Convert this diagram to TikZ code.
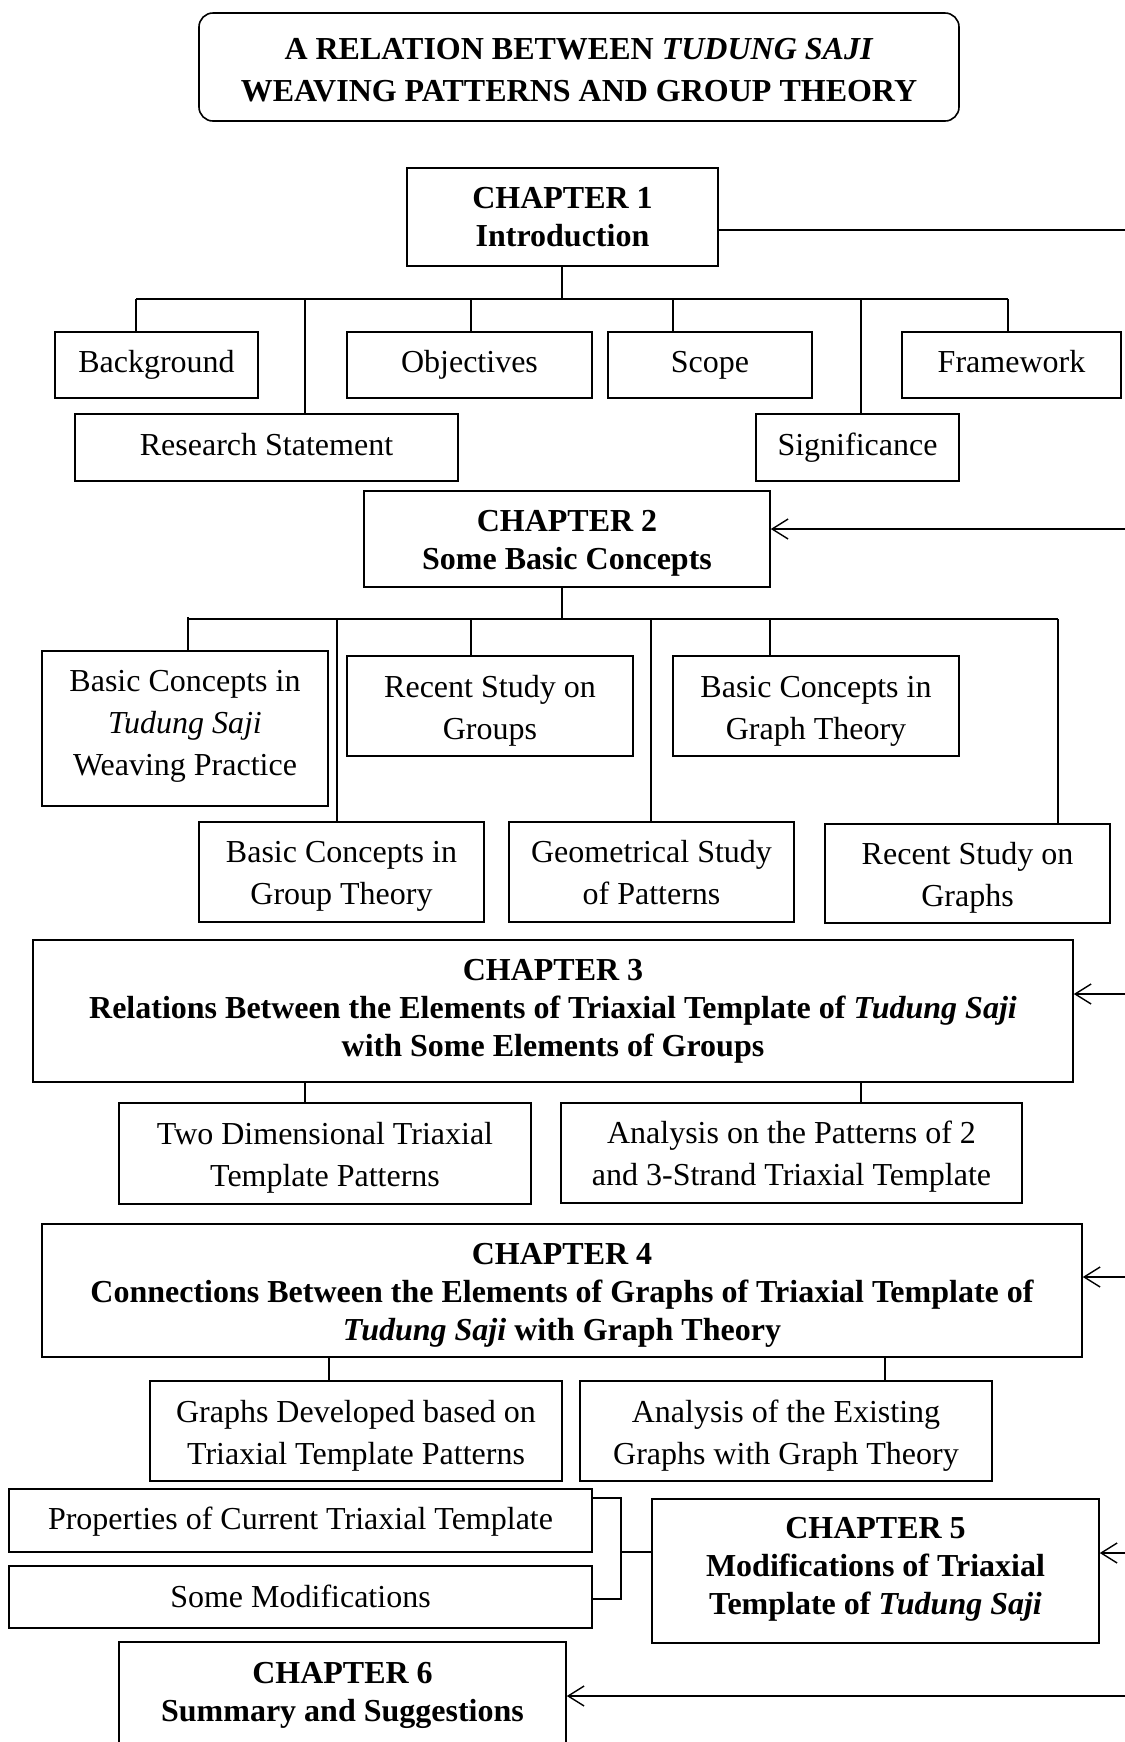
\documentclass[tikz,border=0pt]{standalone}
\usepackage{fontspec}
\setmainfont{Liberation Serif}
\usetikzlibrary{arrows.meta}
\newcommand{\topr}[1]{\rule{0pt}{#1}}
\newcommand{\botr}[1]{\rule[-#1]{0pt}{#1}}
\tikzset{
  plainbox/.style={draw, line width=0.8pt, align=center, inner sep=0pt,
    font=\fontsize{16}{21}\selectfont},
  chapbox/.style={plainbox, font=\fontsize{16}{19}\selectfont\bfseries},
  conn/.style={line width=0.7pt},
  arr/.style={line width=0.7pt, -{Straight Barb[length=8pt,width=10pt,line width=0.7pt]}}
}
\begin{document}
\begin{tikzpicture}[x=0.5pt,y=-0.5pt]
\path[use as bounding box] (0,0) rectangle (1125,1742);
\clip (0,0) rectangle (1125,1742);

% title
\node[chapbox, rounded corners=7pt, minimum width=380pt, minimum height=54pt,
  font=\fontsize{16}{21}\selectfont\bfseries] (title) at (579,67)
  {\topr{17.3pt}A RELATION BETWEEN \textit{TUDUNG SAJI}\\WEAVING PATTERNS AND GROUP THEORY\botr{4pt}};

% chapter 1
\node[chapbox, minimum width=155.5pt, minimum height=49pt] (ch1) at (562.5,217) {\topr{14pt}CHAPTER 1\\Introduction\botr{4pt}};
\node[plainbox, minimum width=101.5pt, minimum height=33pt] (bg) at (156.5,365) {\topr{11.5pt}Background\botr{4.3pt}};
\node[plainbox, minimum width=122.5pt, minimum height=33pt] (obj) at (469.5,365) {\topr{11.5pt}Objectives\botr{4.3pt}};
\node[plainbox, minimum width=102pt, minimum height=33pt] (scope) at (710,365) {\topr{11.5pt}Scope\botr{4.3pt}};
\node[plainbox, minimum width=109.5pt, minimum height=33pt] (fw) at (1011.5,365) {\topr{11.5pt}Framework\botr{4.3pt}};
\node[plainbox, minimum width=191.5pt, minimum height=33.5pt] (rs) at (266.5,447.5) {\topr{11.8pt}Research Statement\botr{4pt}};
\node[plainbox, minimum width=101.5pt, minimum height=33.5pt] (sig) at (857.5,447.5) {\topr{11.8pt}Significance\botr{4pt}};

% chapter 2
\node[chapbox, minimum width=203pt, minimum height=48pt] (ch2) at (567,539) {\topr{15.1pt}CHAPTER 2\\Some Basic Concepts\botr{4pt}};
\node[plainbox, minimum width=143pt, minimum height=77.5pt] (bt) at (185,728.5) {\topr{11.5pt}Basic Concepts in\\\textit{Tudung Saji}\\Weaving Practice\botr{6.5pt}};
\node[plainbox, minimum width=143pt, minimum height=50pt] (rg) at (490,706) {\topr{16.2pt}Recent Study on\\Groups\botr{4pt}};
\node[plainbox, minimum width=143pt, minimum height=50pt] (gth) at (816,706) {\topr{16.2pt}Basic Concepts in\\Graph Theory\botr{4pt}};
\node[plainbox, minimum width=142.5pt, minimum height=50pt] (gt) at (341.5,872) {\topr{15.7pt}Basic Concepts in\\Group Theory\botr{4pt}};
\node[plainbox, minimum width=142.5pt, minimum height=50pt] (geo) at (651.5,872) {\topr{15.7pt}Geometrical Study\\of Patterns\botr{4pt}};
\node[plainbox, minimum width=142.5pt, minimum height=49.5pt] (rgr) at (967.5,873.5) {\topr{15.7pt}Recent Study on\\Graphs\botr{4pt}};

% chapter 3
\node[chapbox, minimum width=520pt, minimum height=71pt] (ch3) at (553,1011)
  {\topr{11.5pt}CHAPTER 3\\Relations Between the Elements of Triaxial Template of \textit{Tudung Saji}\\with Some Elements of Groups\botr{4.3pt}};
\node[plainbox, minimum width=206pt, minimum height=50.5pt] (td) at (325,1153.5) {\topr{15.7pt}Two Dimensional Triaxial\\Template Patterns\botr{4pt}};
\node[plainbox, minimum width=230.5pt, minimum height=50pt] (ap) at (791.5,1153) {\topr{15.7pt}Analysis on the Patterns of 2\\and 3-Strand Triaxial Template\botr{4pt}};

% chapter 4
\node[chapbox, minimum width=520pt, minimum height=66.5pt] (ch4) at (562,1290.5)
  {\topr{16.2pt}CHAPTER 4\\Connections Between the Elements of Graphs of Triaxial Template of\\\textit{Tudung Saji} with Graph Theory\botr{4pt}};
\node[plainbox, minimum width=206pt, minimum height=50pt] (gd) at (356,1431) {\topr{16.8pt}Graphs Developed based on\\Triaxial Template Patterns\botr{4pt}};
\node[plainbox, minimum width=206pt, minimum height=50pt] (ae) at (786,1431) {\topr{16.8pt}Analysis of the Existing\\Graphs with Graph Theory\botr{4pt}};

% chapter 5
\node[plainbox, minimum width=291.5pt, minimum height=31.5pt] (prop) at (300.5,1520.5) {\topr{13.7pt}Properties of Current Triaxial Template\botr{4.3pt}};
\node[plainbox, minimum width=291.5pt, minimum height=31pt] (mods) at (300.5,1597) {\topr{14pt}Some Modifications\botr{4pt}};
\node[chapbox, minimum width=223.5pt, minimum height=72pt] (ch5) at (875.5,1571)
  {\topr{11.5pt}CHAPTER 5\\Modifications of Triaxial\\Template of \textit{Tudung Saji}\botr{6.5pt}};

% chapter 6
\node[chapbox, minimum width=223.5pt, minimum height=52pt] (ch6) at (342.5,1694)
  {\topr{12pt}CHAPTER 6\\Summary and Suggestions\botr{4pt}};

% ---- connectors chapter 1
\coordinate (b1) at (562,299);
\coordinate (b1l) at (136,299);
\coordinate (b1r) at (1008,299);
\draw[conn] (ch1.south -| b1) -- (b1);
\draw[conn] (b1l) -- (b1r);
\draw[conn] (b1l) -- (b1l |- bg.north);
\coordinate (d12) at (305,299);
\draw[conn] (d12) -- (d12 |- rs.north);
\coordinate (d13) at (471,299);
\draw[conn] (d13) -- (d13 |- obj.north);
\coordinate (d14) at (673,299);
\draw[conn] (d14) -- (d14 |- scope.north);
\coordinate (d15) at (861,299);
\draw[conn] (d15) -- (d15 |- sig.north);
\draw[conn] (b1r) -- (b1r |- fw.north);

% ---- connectors chapter 2
\coordinate (b2) at (562,619);
\coordinate (b2l) at (188,619);
\coordinate (b2r) at (1058,619);
\coordinate (b2t) at (188,617);
\draw[conn] (ch2.south -| b2) -- (b2);
\draw[conn] (b2l) -- (b2r);
\draw[conn] (b2t) -- (b2l |- bt.north);
\coordinate (d22) at (337,619);
\draw[conn] (d22) -- (d22 |- gt.north);
\coordinate (d23) at (471,619);
\draw[conn] (d23) -- (d23 |- rg.north);
\coordinate (d24) at (651,619);
\draw[conn] (d24) -- (d24 |- geo.north);
\coordinate (d25) at (770,619);
\draw[conn] (d25) -- (d25 |- gth.north);
\draw[conn] (b2r) -- (b2r |- rgr.north);

% ---- connectors chapter 3
\coordinate (d31) at (305,1082);
\coordinate (d32) at (861,1082);
\draw[conn] (ch3.south -| d31) -- (d31 |- td.north);
\draw[conn] (ch3.south -| d32) -- (d32 |- ap.north);

% ---- connectors chapter 4
\coordinate (d41) at (329,1357);
\coordinate (d42) at (885,1357);
\draw[conn] (ch4.south -| d41) -- (d41 |- gd.north);
\draw[conn] (ch4.south -| d42) -- (d42 |- ae.north);

% ---- bracket chapter 5
\coordinate (k1) at (621,1498);
\coordinate (k2) at (621,1599);
\coordinate (k3) at (621,1552);
\draw[conn] (k1 -| prop.east) -- (k1) -- (k2) -- (k2 -| mods.east);
\draw[conn] (k3) -- (k3 -| ch5.west);

% ---- right-hand feedback lines
\coordinate (r1) at (1125,230);
\coordinate (r2) at (1125,529);
\coordinate (r3) at (1125,994);
\coordinate (r4) at (1125,1277);
\coordinate (r5) at (1125,1553);
\coordinate (r6) at (1125,1696);
\draw[conn] (r1 -| ch1.east) -- (r1);
\draw[arr] (r2) -- (r2 -| ch2.east);
\draw[arr] (r3) -- (r3 -| ch3.east);
\draw[arr] (r4) -- (r4 -| ch4.east);
\draw[arr] (r5) -- (r5 -| ch5.east);
\draw[arr] (r6) -- (r6 -| ch6.east);
\end{tikzpicture}
\end{document}
